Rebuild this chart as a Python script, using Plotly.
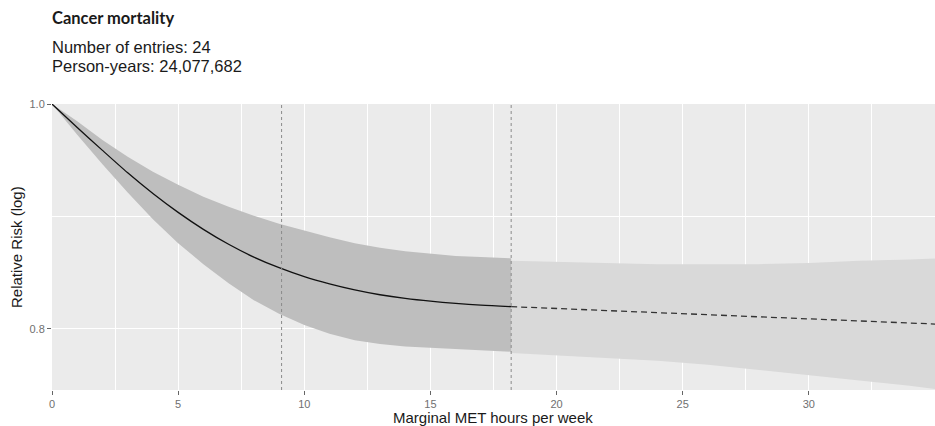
import plotly.graph_objects as go

# ---- data ----
met_solid = [0, 1, 2, 3, 4, 5, 6, 7, 8, 9, 10, 11, 12, 13, 14, 15, 16, 17, 18.2]
rr_solid = [1.0, 0.977, 0.955, 0.934, 0.915, 0.898, 0.883, 0.870, 0.859, 0.850, 0.8425,
            0.8365, 0.8315, 0.8275, 0.8245, 0.8222, 0.8204, 0.819, 0.8178]
hi_solid = [1.0, 0.983, 0.965, 0.949, 0.935, 0.923, 0.912, 0.903, 0.895, 0.888, 0.882,
            0.876, 0.871, 0.867, 0.864, 0.862, 0.860, 0.859, 0.858]
lo_solid = [1.0, 0.970, 0.942, 0.916, 0.892, 0.871, 0.853, 0.837, 0.823, 0.812, 0.803,
            0.796, 0.791, 0.788, 0.786, 0.785, 0.784, 0.783, 0.782]

met_dash = [18.2, 20, 22, 24, 26, 28, 30, 32, 34, 35.2]
rr_dash = [0.8178, 0.8163, 0.8146, 0.8129, 0.8112, 0.8096, 0.808, 0.806, 0.8045, 0.8036]
hi_dash = [0.856, 0.855, 0.854, 0.853, 0.853, 0.853, 0.854, 0.856, 0.857, 0.858]
lo_dash = [0.781, 0.779, 0.777, 0.775, 0.772, 0.768, 0.764, 0.760, 0.756, 0.753]

ref_lines = [9.1, 18.2]
x_ticks = [0, 5, 10, 15, 20, 25, 30]
x_minor = [2.5, 7.5, 12.5, 17.5, 22.5, 27.5, 32.5]
y_ticks = [0.8, 1.0]
y_ticktext = ["0.8", "1.0"]
y_minor = [0.8944]

title_text = "Cancer mortality"
subtitle_lines = ["Number of entries: 24", "Person-years: 24,077,682"]

fig = go.Figure()

# confidence bands
fig.add_trace(go.Scatter(
    x=met_dash + met_dash[::-1], y=hi_dash + lo_dash[::-1],
    fill="toself", fillcolor="#D9D9D9", line=dict(width=0),
    mode="lines", hoverinfo="skip", showlegend=False))
fig.add_trace(go.Scatter(
    x=met_solid + met_solid[::-1], y=hi_solid + lo_solid[::-1],
    fill="toself", fillcolor="#BEBEBE", line=dict(width=0),
    mode="lines", hoverinfo="skip", showlegend=False))

# central estimates
fig.add_trace(go.Scatter(
    x=met_solid, y=rr_solid, mode="lines",
    line=dict(color="#111111", width=1.3, shape="spline", smoothing=0.8),
    showlegend=False))
fig.add_trace(go.Scatter(
    x=met_dash, y=rr_dash, mode="lines",
    line=dict(color="#333333", width=1.3, dash="6px,4px"),
    showlegend=False))

for xv in ref_lines:
    fig.add_shape(type="line", xref="x", yref="paper", x0=xv, x1=xv, y0=0, y1=1,
                  line=dict(color="#8a8a8a", width=1, dash="dot"), layer="above")

fig.update_layout(
    width=935, height=426,
    margin=dict(l=52, r=0, t=104, b=36),
    paper_bgcolor="white", plot_bgcolor="#EBEBEB",
    font=dict(family="Liberation Sans, Arial, sans-serif", color="#4d4d4d"),
    xaxis=dict(
        range=[0, 35.0], tickvals=x_ticks, ticks="outside", ticklen=4,
        tickcolor="#666666", tickwidth=1,
        tickfont=dict(size=11, color="#707070"),
        showgrid=True, gridcolor="white", gridwidth=1.2, zeroline=False,
        showline=False,
        minor=dict(tickvals=x_minor, showgrid=True, gridcolor="white",
                   gridwidth=0.6, ticks="")),
    yaxis=dict(
        type="log", range=[-0.1233, 0.0], tickvals=y_ticks, ticktext=y_ticktext,
        ticks="outside", ticklen=4, tickcolor="#666666", tickwidth=1,
        tickfont=dict(size=11, color="#707070"),
        showgrid=True, gridcolor="white", gridwidth=1.2, zeroline=False,
        showline=False,
        minor=dict(tickvals=y_minor, showgrid=True, gridcolor="white",
                   gridwidth=0.6, ticks="")),
)

ph = 286.0
pw = 883.0
annotations = [
    dict(text="<b>" + title_text + "</b>", xref="paper", yref="paper",
         x=-2 / pw, y=(390 - 18) / ph, xanchor="left", yanchor="middle", showarrow=False,
         font=dict(family="Lato, sans-serif", size=16.5, color="#1a1a1a")),
    dict(text=subtitle_lines[0], xref="paper", yref="paper",
         x=-2 / pw, y=(390 - 47) / ph, xanchor="left", yanchor="middle", showarrow=False,
         font=dict(family="Liberation Sans, Arial, sans-serif", size=16.5, color="#1a1a1a")),
    dict(text=subtitle_lines[1], xref="paper", yref="paper",
         x=-2 / pw, y=(390 - 66) / ph, xanchor="left", yanchor="middle", showarrow=False,
         font=dict(family="Liberation Sans, Arial, sans-serif", size=16.5, color="#1a1a1a")),
    dict(text="Relative Risk (log)", xref="paper", yref="paper",
         x=(16 - 52) / pw, y=0.5, xanchor="center", yanchor="middle", textangle=-90,
         showarrow=False,
         font=dict(family="Liberation Sans, Arial, sans-serif", size=15, color="#1a1a1a")),
    dict(text="Marginal MET hours per week", xref="paper", yref="paper",
         x=0.4995, y=(390 - 417) / ph, xanchor="center", yanchor="middle",
         showarrow=False,
         font=dict(family="Liberation Sans, Arial, sans-serif", size=15, color="#1a1a1a")),
]
fig.update_layout(annotations=annotations)

fig.write_html("out.html", config={"displayModeBar": False},
               post_script="document.body.style.margin='0';document.body.style.padding='0';")
